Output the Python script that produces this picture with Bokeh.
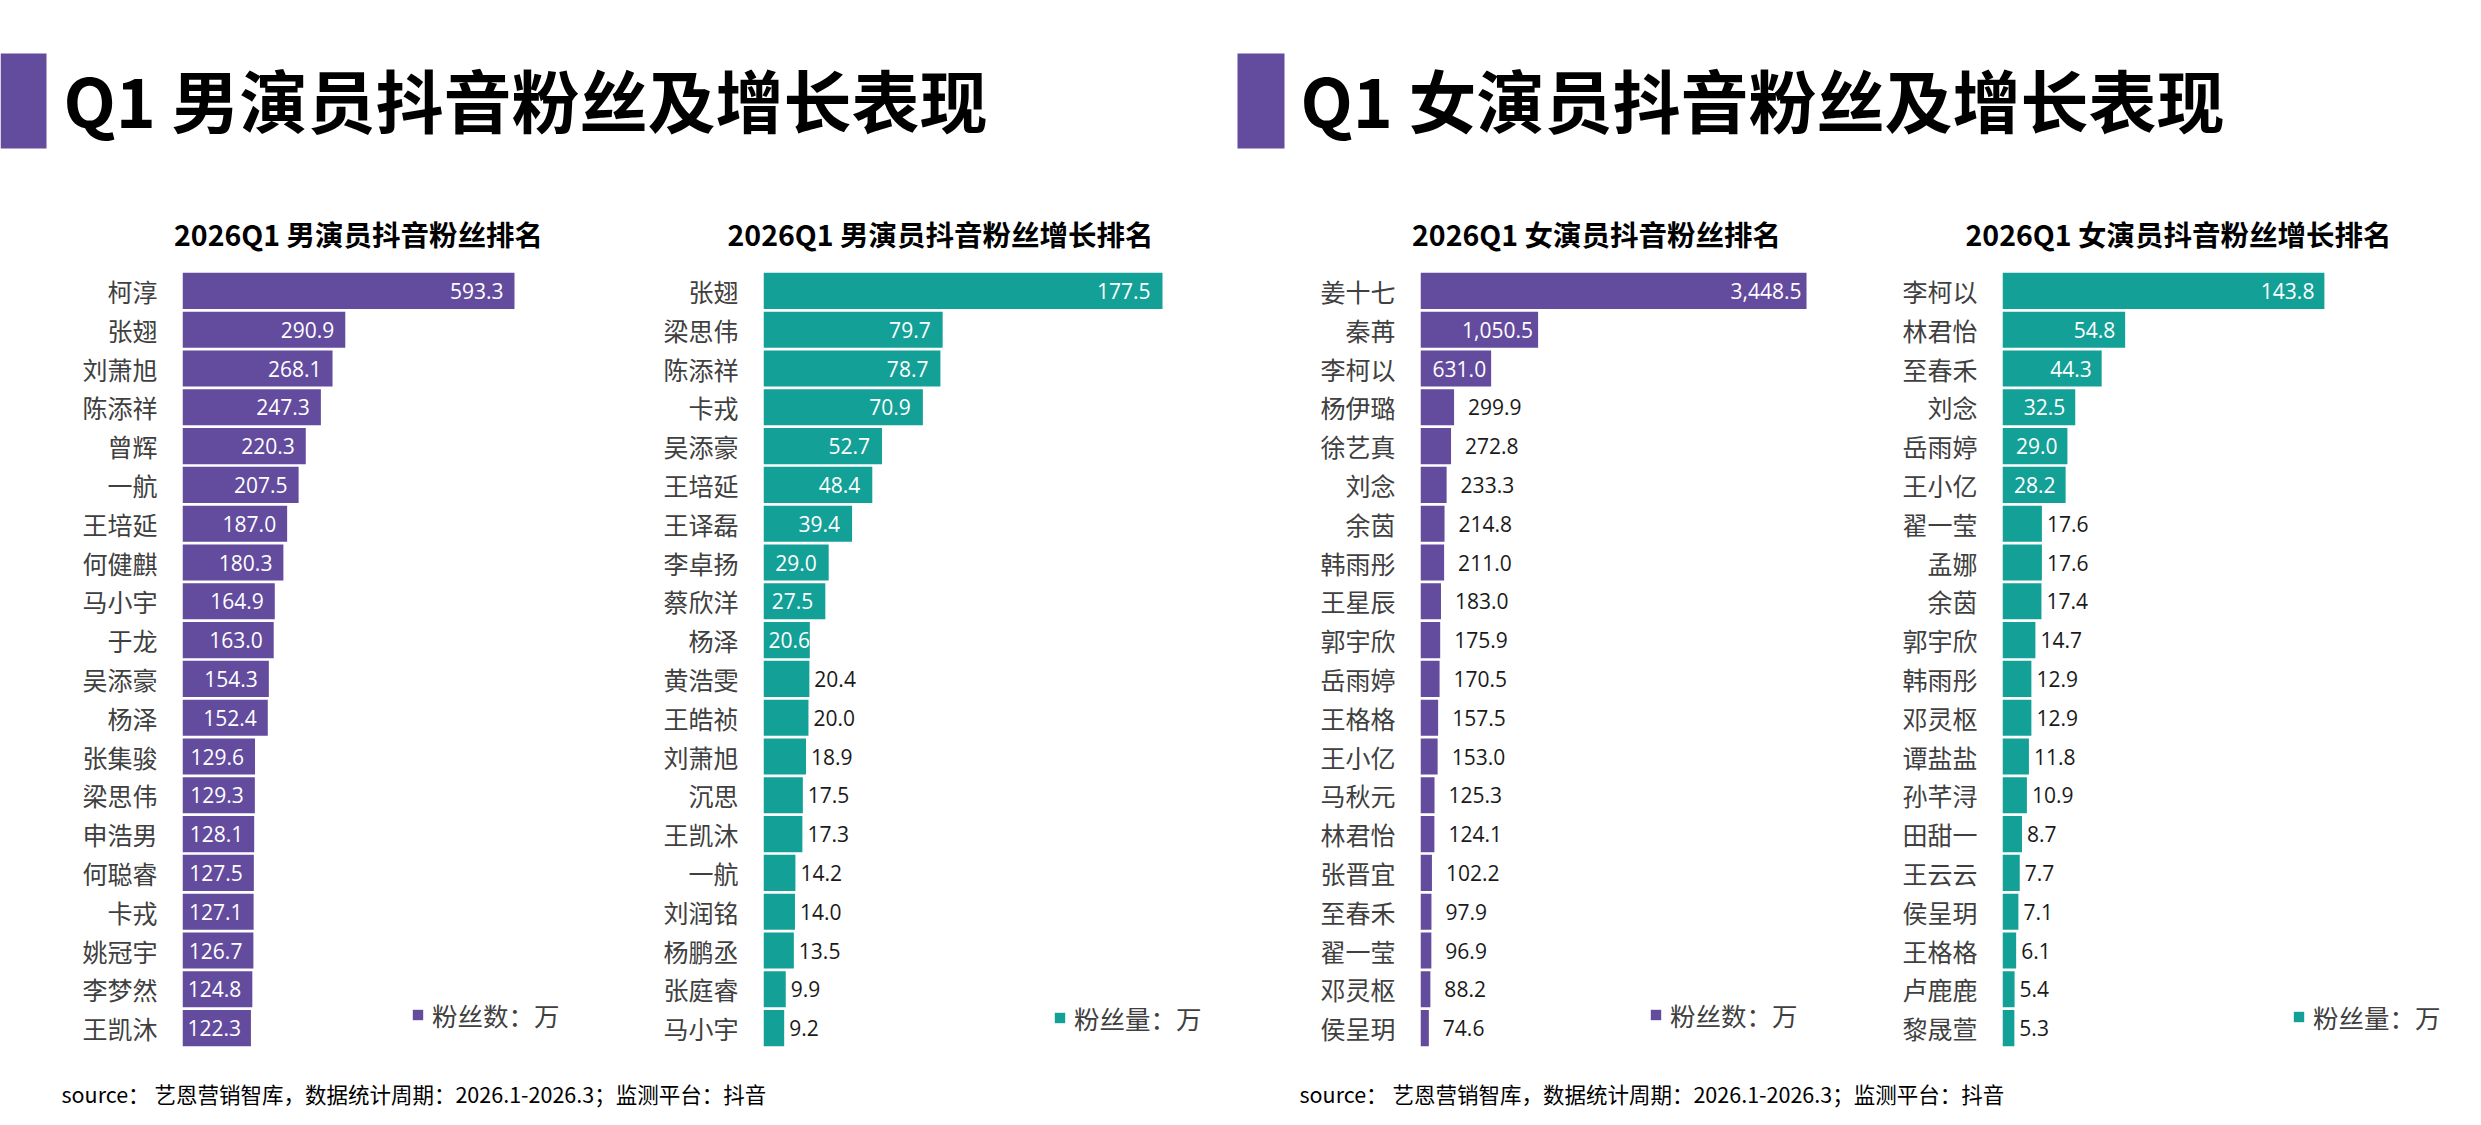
from bokeh.plotting import figure
from bokeh.models import ColumnDataSource, Range1d, FactorRange, Legend, LegendItem
from bokeh.layouts import column, row
from bokeh.embed import file_html
from bokeh.resources import INLINE
from bokeh.core.properties import value

# ---------------- data ----------------
male_fans_names = ["柯淳", "张翅", "刘萧旭", "陈添祥", "曾辉", "一航", "王培延", "何健麒", "马小宇", "于龙",
                   "吴添豪", "杨泽", "张集骏", "梁思伟", "申浩男", "何聪睿", "卡戎", "姚冠宇", "李梦然", "王凯沐"]
male_fans = [593.3, 290.9, 268.1, 247.3, 220.3, 207.5, 187.0, 180.3, 164.9, 163.0,
             154.3, 152.4, 129.6, 129.3, 128.1, 127.5, 127.1, 126.7, 124.8, 122.3]

male_growth_names = ["张翅", "梁思伟", "陈添祥", "卡戎", "吴添豪", "王培延", "王译磊", "李卓扬", "蔡欣洋", "杨泽",
                     "黄浩雯", "王皓祯", "刘萧旭", "沉思", "王凯沐", "一航", "刘润铭", "杨鹏丞", "张庭睿", "马小宇"]
male_growth = [177.5, 79.7, 78.7, 70.9, 52.7, 48.4, 39.4, 29.0, 27.5, 20.6,
               20.4, 20.0, 18.9, 17.5, 17.3, 14.2, 14.0, 13.5, 9.9, 9.2]

female_fans_names = ["姜十七", "秦苒", "李柯以", "杨伊璐", "徐艺真", "刘念", "余茵", "韩雨彤", "王星辰", "郭宇欣",
                     "岳雨婷", "王格格", "王小亿", "马秋元", "林君怡", "张晋宜", "至春禾", "翟一莹", "邓灵枢", "侯呈玥"]
female_fans = [3448.5, 1050.5, 631.0, 299.9, 272.8, 233.3, 214.8, 211.0, 183.0, 175.9,
               170.5, 157.5, 153.0, 125.3, 124.1, 102.2, 97.9, 96.9, 88.2, 74.6]

female_growth_names = ["李柯以", "林君怡", "至春禾", "刘念", "岳雨婷", "王小亿", "翟一莹", "孟娜", "余茵", "郭宇欣",
                       "韩雨彤", "邓灵枢", "谭盐盐", "孙芊浔", "田甜一", "王云云", "侯呈玥", "王格格", "卢鹿鹿", "黎晟萱"]
female_growth = [143.8, 54.8, 44.3, 32.5, 29.0, 28.2, 17.6, 17.6, 17.4, 14.7,
                 12.9, 12.9, 11.8, 10.9, 8.7, 7.7, 7.1, 6.1, 5.4, 5.3]

main_titles = ["Q1 男演员抖音粉丝及增长表现", "Q1 女演员抖音粉丝及增长表现"]
sub_titles = ["2026Q1 男演员抖音粉丝排名", "2026Q1 男演员抖音粉丝增长排名",
              "2026Q1 女演员抖音粉丝排名", "2026Q1 女演员抖音粉丝增长排名"]
legend_fans = "粉丝数：万"
legend_growth = "粉丝量：万"
source_text = "source： 艺恩营销智库，数据统计周期：2026.1-2026.3；监测平台：抖音"

# ---------------- style ----------------
PURPLE = "#634B9E"
TEAL = "#13A097"
CJK = "Noto Sans CJK SC"
NUM = "Open Sans"
LABEL_GRAY = "#404040"
W = 2465
H = 1109
HEAD_H = 258
CHART_H = 809
NUM_SIZE = 21


def clean(p):
    p.outline_line_color = None
    p.xgrid.grid_line_color = None
    p.ygrid.grid_line_color = None
    p.background_fill_color = "white"
    p.border_fill_color = "white"


def text_width(s):
    w = 0.0
    for ch in s:
        w += (0.26 if ch in ".," else 0.572) * NUM_SIZE
    return w


# ---------------- header ----------------
header = figure(width=W, height=HEAD_H, x_range=Range1d(0, W), y_range=Range1d(HEAD_H, 0),
                output_backend="svg", toolbar_location=None, min_border=0,
                x_axis_location=None, y_axis_location=None)
clean(header)
header.quad(left=[0, 1237], right=[46, 1284], top=[53, 53], bottom=[148, 148],
            fill_color=PURPLE, line_color=None)
header.text(x=[63, 1300], y=[98, 98], text=main_titles, text_font=value(CJK),
            text_font_size="68px", text_font_style="bold", text_baseline="middle",
            text_color="black")
header.text(x=[358, 940, 1596, 2178], y=[233] * 4, text=sub_titles, text_font=value(CJK),
            text_font_size="28.5px", text_font_style="bold", text_baseline="middle",
            text_align="center", text_color="black")


# ---------------- charts ----------------
def bar_chart(names, vals, color, width, mbl, x_end, n_inside, in_off, out_off,
              legend_label, legend_loc, fmt):
    mbr = 20
    frame_w = width - mbl - mbr
    ppu = frame_w / x_end
    p = figure(width=width, height=CHART_H, y_range=FactorRange(factors=names[::-1]),
               x_range=Range1d(0, x_end), output_backend="svg", toolbar_location=None,
               x_axis_location=None, min_border_left=mbl, min_border_right=mbr,
               min_border_top=13, min_border_bottom=CHART_H - 13 - 776)
    clean(p)
    ax = p.yaxis[0]
    ax.axis_line_color = None
    ax.major_tick_line_color = None
    ax.minor_tick_line_color = None
    ax.major_tick_out = 0
    ax.major_tick_in = 0
    ax.major_label_standoff = 25
    ax.major_label_text_font = CJK
    ax.major_label_text_font_size = "25px"
    ax.major_label_text_color = LABEL_GRAY

    src = ColumnDataSource(dict(name=names, val=vals))
    r = p.hbar(y="name", right="val", left=0, height=0.93, fill_color=color,
               line_color=None, source=src)

    texts = [fmt.format(v) for v in vals]
    in_r = dict(name=[], x=[], text=[])
    in_l = dict(name=[], x=[], text=[])
    out = dict(name=[], x=[], text=[])
    for i, (n, v, t) in enumerate(zip(names, vals, texts)):
        if i < n_inside:
            if text_width(t) + in_off + 5 > v * ppu:
                in_l["name"].append(n); in_l["x"].append(0); in_l["text"].append(t)
            else:
                in_r["name"].append(n); in_r["x"].append(v); in_r["text"].append(t)
        else:
            out["name"].append(n); out["x"].append(v); out["text"].append(t)
    common = dict(text_font=value(NUM), text_font_size=f"{NUM_SIZE}px", text_baseline="middle")
    p.text(x="x", y="name", text="text", source=ColumnDataSource(in_r), text_align="right",
           x_offset=-in_off, text_color="white", **common)
    p.text(x="x", y="name", text="text", source=ColumnDataSource(in_l), text_align="left",
           x_offset=5, text_color="white", **common)
    p.text(x="x", y="name", text="text", source=ColumnDataSource(out), text_align="left",
           x_offset=out_off, text_color="#1a1a1a", **common)

    leg = Legend(items=[LegendItem(label=legend_label, renderers=[r])], location=legend_loc,
                 glyph_width=13, glyph_height=13, label_standoff=8,
                 label_text_font=CJK, label_text_font_size="25.5px", label_text_color=LABEL_GRAY,
                 border_line_color=None, background_fill_alpha=0, padding=0, margin=0)
    p.add_layout(leg)
    return p


f1 = bar_chart(male_fans_names, male_fans, PURPLE, 620, 182, 747.0, 20, 11, 6,
               legend_fans, (229, 14), "{:,.1f}")
f2 = bar_chart(male_growth_names, male_growth, TEAL, 620, 143, 203.3, 10, 12, 5,
               legend_growth, (290, 11), "{:,.1f}")
f3 = bar_chart(female_fans_names, female_fans, PURPLE, 620, 180, 3752.0, 3, 5, 14,
               legend_fans, (229, 14), "{:,.1f}")
f4 = bar_chart(female_growth_names, female_growth, TEAL, W - 1860, 142, 197.9, 6, 10, 5,
               legend_growth, (290, 12), "{:,.1f}")

# ---------------- footer ----------------
FOOT_TOP = HEAD_H + CHART_H
footer = figure(width=W, height=H - FOOT_TOP, x_range=Range1d(0, W), y_range=Range1d(H, FOOT_TOP),
                output_backend="svg", toolbar_location=None, min_border=0,
                x_axis_location=None, y_axis_location=None)
clean(footer)
footer.text(x=[61, 1299], y=[1093, 1093], text=[source_text, source_text], text_font=value(CJK),
            text_font_size="21.5px", text_baseline="middle", text_color="black")

layout = column(header, row(f1, f2, f3, f4, spacing=0), footer, spacing=0)
open("out.html", "w").write(file_html(layout, INLINE))
